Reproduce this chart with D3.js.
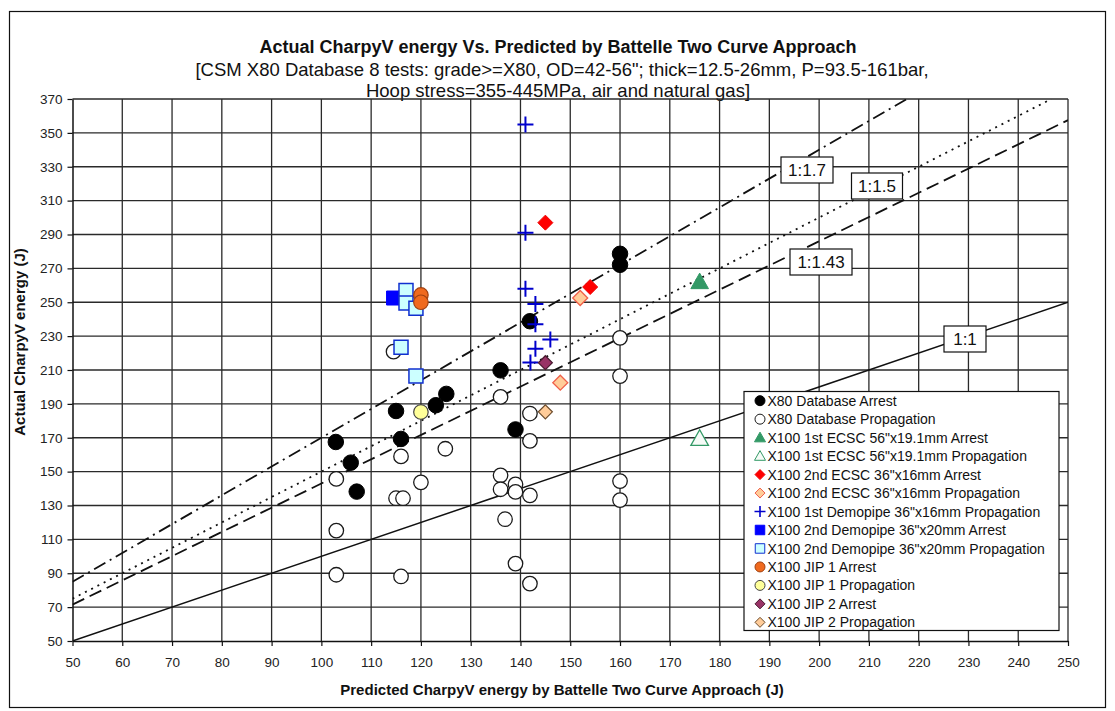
<!DOCTYPE html>
<html>
<head>
<meta charset="utf-8">
<script src="https://cdn.jsdelivr.net/npm/d3@7/dist/d3.min.js"></script>
<style>
  html, body { margin: 0; padding: 0; background: #fff; }
  svg { display: block; font-family: "Liberation Sans", Arial, sans-serif; }
</style>
</head>
<body>
<svg id="chart" width="1115" height="711"></svg>
<script>
// ---- axis ticks ----
const xTickValues = [50, 60, 70, 80, 90, 100, 110, 120, 130, 140, 150, 160, 170, 180, 190, 200, 210, 220, 230, 240, 250];
const yTickValues = [50, 70, 90, 110, 130, 150, 170, 190, 210, 230, 250, 270, 290, 310, 330, 350, 370];

// ---- measured points [predicted, actual] in J ----
const x80Arrest = [[160, 278.6], [160, 272.1], [141.9, 238.8], [136, 209.8], [125.1, 195.9], [123, 189.2],
  [115, 185.8], [102.9, 167.5], [116, 169.3], [105.9, 155.3], [107.1, 138.2], [139, 174.9]];
const x80Propagation = [[160, 229], [160, 206.4], [160, 144.4], [160, 133.2], [136, 194.1], [141.9, 184.3],
  [141.9, 168.2], [124.9, 163.5], [116, 159], [103, 145.7], [120, 143.7], [115, 134.3], [116.4, 134.3],
  [103, 115.2], [103, 89.1], [116, 88.1], [114.5, 220.8], [136, 147.8], [136, 139.6], [139, 142.5],
  [139, 138], [141.9, 136], [136.9, 121.9], [139, 95.7], [141.9, 83.9]];
const ecsc1Arrest = [[176, 262]];
const ecsc1Propagation = [[176, 169.5]];
const ecsc2Arrest = [[145, 297], [154, 259]];
const ecsc2Propagation = [[152, 252.5], [148, 202.5]];
const demo1Propagation = [[141, 355], [141, 291], [141, 258], [143, 249], [143, 237], [146, 228], [143, 222.5], [142, 214.5]];
const demo2Arrest = [[114.5, 252.5]];
const demo2Propagation = [[117, 257], [117, 249.5], [119, 246.5], [116, 223.5], [119, 206.5]];
const jip1Arrest = [[120, 254.3], [120, 250]];
const jip1Propagation = [[120, 185.2]];
const jip2Arrest = [[145, 214.3]];
const jip2Propagation = [[145, 185.3]];

// ---- reference ratio lines: actual = ratio * predicted ----
const ratioValues = [1, 1.43, 1.5, 1.7];
const ratioLabels = ["1:1", "1:1.43", "1:1.5", "1:1.7"];

const svg = d3.select("#chart");
const plot = { left: 72.5, right: 1068, top: 99, bottom: 641 };

const x = d3.scaleLinear().domain([50, 250]).range([plot.left, plot.right]);
const y = d3.scaleLinear().domain([50, 370]).range([plot.bottom, plot.top]);

// outer frame
svg.append("rect").attr("x", 9.5).attr("y", 11.5).attr("width", 1096).attr("height", 696)
  .attr("fill", "#fff").attr("stroke", "#111").attr("stroke-width", 1.2);

// titles
svg.append("text").attr("x", 558).attr("y", 53).attr("text-anchor", "middle")
  .attr("font-size", 18).attr("font-weight", "bold").attr("fill", "#111")
  .text("Actual CharpyV energy Vs. Predicted by Battelle Two Curve Approach");
svg.append("text").attr("x", 562).attr("y", 76).attr("text-anchor", "middle")
  .attr("font-size", 18.5).attr("fill", "#111")
  .text("[CSM X80 Database 8 tests: grade>=X80, OD=42-56\"; thick=12.5-26mm, P=93.5-161bar,");
svg.append("text").attr("x", 558).attr("y", 97).attr("text-anchor", "middle")
  .attr("font-size", 18.5).attr("fill", "#111")
  .text("Hoop stress=355-445MPa, air and natural gas]");

// grid
const grid = svg.append("g").attr("stroke", "#2a2a2a").attr("stroke-width", 1.3);
grid.selectAll("line.v").data(xTickValues.slice(1)).join("line")
  .attr("x1", d => x(d)).attr("x2", d => x(d)).attr("y1", plot.top).attr("y2", plot.bottom);
grid.selectAll("line.h").data(yTickValues.slice(1)).join("line")
  .attr("x1", plot.left).attr("x2", plot.right).attr("y1", d => y(d)).attr("y2", d => y(d));

// axes
const xAxis = svg.append("g").attr("transform", `translate(0,${plot.bottom})`)
  .call(d3.axisBottom(x).tickValues(xTickValues).tickSize(5).tickPadding(11).tickSizeOuter(0));
const yAxis = svg.append("g").attr("transform", `translate(${plot.left},0)`)
  .call(d3.axisLeft(y).tickValues(yTickValues).tickSize(5).tickPadding(5).tickSizeOuter(0));
[xAxis, yAxis].forEach(a => {
  a.select(".domain").attr("stroke", "#111").attr("stroke-width", 1.5);
  a.selectAll(".tick line").attr("stroke", "#111").attr("stroke-width", 1.2);
  a.selectAll(".tick text").attr("font-size", 13.5).attr("fill", "#222")
    .attr("font-family", "\"Liberation Sans\", Arial, sans-serif");
});

// axis titles
svg.append("text").attr("x", 562).attr("y", 695).attr("text-anchor", "middle")
  .attr("font-size", 15).attr("font-weight", "bold").attr("fill", "#111")
  .text("Predicted CharpyV energy by Battelle Two Curve Approach (J)");
svg.append("text").attr("transform", "translate(25,342) rotate(-90)").attr("text-anchor", "middle")
  .attr("font-size", 15).attr("font-weight", "bold").attr("fill", "#111")
  .text("Actual CharpyV energy (J)");

// ratio lines
svg.append("clipPath").attr("id", "plotClip").append("rect")
  .attr("x", plot.left).attr("y", plot.top)
  .attr("width", plot.right - plot.left).attr("height", plot.bottom - plot.top);
const dashFor = { "1": null, "1.43": "13,6", "1.5": "2,5", "1.7": "13,5,2,5" };
const lineGen = d3.line().x(d => x(d[0])).y(d => y(d[1]));
const ratioG = svg.append("g").attr("clip-path", "url(#plotClip)");
ratioValues.forEach(r => {
  const xEnd = Math.min(250, 370 / r);
  ratioG.append("path").datum([[50, 50 * r], [xEnd, xEnd * r]])
    .attr("d", lineGen).attr("fill", "none").attr("stroke", "#111")
    .attr("stroke-width", r === 1 ? 1.5 : 1.8)
    .attr("stroke-dasharray", dashFor[String(r)]);
});

// marker shapes
const shapes = {
  circle: s => d3.symbol(d3.symbolCircle, Math.PI * s * s / 4)(),
  square: s => d3.symbol(d3.symbolSquare, s * s)(),
  triangle: s => `M0,${-s * 0.55}L${s * 0.55},${s * 0.42}L${-s * 0.55},${s * 0.42}Z`,
  diamond: s => `M0,${-s / 2}L${s / 2},0L0,${s / 2}L${-s / 2},0Z`,
  plus: s => `M${-s / 2},0H${s / 2}M0,${-s / 2}V${s / 2}`
};

const series = [
  { name: "X80 Database Arrest", data: x80Arrest, shape: "circle", size: 15.5, fill: "#000", stroke: "#000", sw: 1 },
  { name: "X80 Database Propagation", data: x80Propagation, shape: "circle", size: 14.5, fill: "#fff", stroke: "#1a1a1a", sw: 1.3 },
  { name: "X100 1st ECSC 56\"x19.1mm Arrest", data: ecsc1Arrest, shape: "triangle", size: 16, fill: "#339966", stroke: "#339966", sw: 1 },
  { name: "X100 1st ECSC 56\"x19.1mm Propagation", data: ecsc1Propagation, shape: "triangle", size: 16, fill: "#f6fbf7", stroke: "#339966", sw: 1.3 },
  { name: "X100 2nd ECSC 36\"x16mm Arrest", data: ecsc2Arrest, shape: "diamond", size: 15, fill: "#ff0000", stroke: "#ee0000", sw: 1 },
  { name: "X100 2nd ECSC 36\"x16mm Propagation", data: ecsc2Propagation, shape: "diamond", size: 15, fill: "#ffcc99", stroke: "#f0604a", sw: 1.3 },
  { name: "X100 1st Demopipe 36\"x16mm Propagation", data: demo1Propagation, shape: "plus", size: 16, fill: "none", stroke: "#0000cc", sw: 2 },
  { name: "X100 2nd Demopipe 36\"x20mm Arrest", data: demo2Arrest, shape: "square", size: 14, fill: "#0000ff", stroke: "#0000ff", sw: 1 },
  { name: "X100 2nd Demopipe 36\"x20mm Propagation", data: demo2Propagation, shape: "square", size: 14, fill: "#ccffff", stroke: "#1030d0", sw: 1.5 },
  { name: "X100 JIP 1 Arrest", data: jip1Arrest, shape: "circle", size: 14.5, fill: "#f06a1e", stroke: "#a04010", sw: 1.2 },
  { name: "X100 JIP 1 Propagation", data: jip1Propagation, shape: "circle", size: 14.5, fill: "#ffff99", stroke: "#444", sw: 1.2 },
  { name: "X100 JIP 2 Arrest", data: jip2Arrest, shape: "diamond", size: 14, fill: "#993366", stroke: "#4a1a30", sw: 1.2 },
  { name: "X100 JIP 2 Propagation", data: jip2Propagation, shape: "diamond", size: 14, fill: "#ffcc99", stroke: "#6b4a2a", sw: 1.2 }
];

const marks = svg.append("g");
series.forEach(s => {
  marks.append("g").selectAll("path").data(s.data).join("path")
    .attr("transform", d => `translate(${x(d[0])},${y(d[1])})`)
    .attr("d", shapes[s.shape](s.size))
    .attr("fill", s.fill).attr("stroke", s.stroke).attr("stroke-width", s.sw);
});

// ratio labels
const labelBoxes = [
  { label: ratioLabels[0], cx: 965, cy: 339, w: 42 },
  { label: ratioLabels[1], cx: 821, cy: 262, w: 62 },
  { label: ratioLabels[2], cx: 877, cy: 186, w: 51 },
  { label: ratioLabels[3], cx: 807, cy: 170, w: 52 }
];
labelBoxes.forEach(b => {
  const g = svg.append("g").attr("transform", `translate(${b.cx},${b.cy})`);
  g.append("rect").attr("x", -b.w / 2).attr("y", -13).attr("width", b.w).attr("height", 26)
    .attr("fill", "#fff").attr("stroke", "#111").attr("stroke-width", 1.2);
  g.append("text").attr("text-anchor", "middle").attr("dy", "0.36em")
    .attr("font-size", 17).attr("fill", "#111").text(b.label);
});

// legend
const legend = svg.append("g");
legend.append("rect").attr("x", 744).attr("y", 391.5).attr("width", 315).attr("height", 239)
  .attr("fill", "#fff").attr("stroke", "#111").attr("stroke-width", 1.2);
series.forEach((s, i) => {
  const cy = 400.7 + i * 18.47;
  legend.append("path").attr("transform", `translate(760,${cy})`)
    .attr("d", shapes[s.shape](s.shape === "plus" ? 11 : (s.shape === "square" ? 9.5 : 10)))
    .attr("fill", s.fill).attr("stroke", s.stroke).attr("stroke-width", s.shape === "plus" ? 1.6 : 1);
  legend.append("text").attr("x", 767.5).attr("y", cy).attr("dy", "0.36em")
    .attr("font-size", 14).attr("fill", "#111").text(s.name);
});
</script>
</body>
</html>
